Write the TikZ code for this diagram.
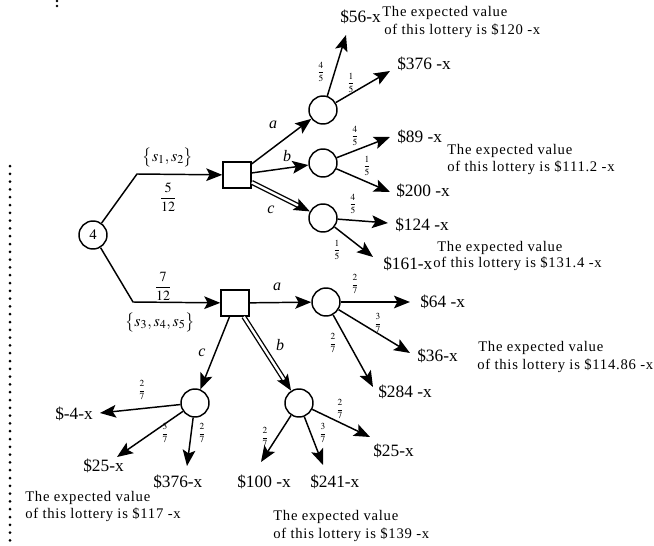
\documentclass[tikz,border=0pt]{standalone}
\usepackage{mathptmx}
\usepackage{fontspec}
\setmainfont{Liberation Serif}
\newfontfamily\evfont[LetterSpace=5]{Liberation Serif}
\usetikzlibrary{arrows.meta}
\tikzset{
  ln/.style={line width=1.1pt},
  arr/.style={ln,-{Stealth[length=12pt,width=9.5pt,inset=2.5pt]}},
  dbl/.style={arr,double,double distance=1.8pt,line width=1pt},
  chance/.style={circle,draw,line width=1.1pt,minimum size=21pt,inner sep=0pt},
  choice/.style={rectangle,draw,line width=1.1pt,minimum width=21pt,minimum height=19.5pt,inner sep=0pt},
  pay/.style={anchor=west,inner sep=0pt,font=\fontsize{13}{14}\selectfont},
  ev/.style={anchor=west,inner sep=0pt,font=\evfont\fontsize{11}{12}\selectfont},
  pr/.style={inner sep=0pt,font=\fontsize{7}{8}\selectfont},
  act/.style={inner sep=0pt,font=\fontsize{12}{13}\selectfont\itshape},
  big/.style={inner sep=0pt,font=\fontsize{12}{13}\selectfont},
  frc/.style={inner sep=0pt,font=\fontsize{10.5}{12}\selectfont},
  dotline/.style={line width=2.25pt,dash pattern=on 0pt off 5.85pt,line cap=round}
}
\begin{document}
\begin{tikzpicture}[x=0.75pt,y=-0.75pt]
\useasboundingbox (0,0) rectangle (654,546);
% dotted margins
\draw[dotline] (10,166) -- (10,543);
\fill (57,1) circle (1.1pt);
\fill (57,6) circle (1.1pt);

% nodes
\node[chance] (n4) at (93,235) {\fontsize{11}{12}\selectfont 4};
\node[choice] (sq1) at (237,175) {};
\node[choice] (sq2) at (235,303) {};
\node[chance] (ca1) at (323,110) {};
\node[chance] (cb1) at (323,163) {};
\node[chance] (cc1) at (323,218) {};
\node[chance] (ca2) at (326,302) {};
\node[chance] (cb2) at (299,403) {};
\node[chance] (cc2) at (195,403) {};

\coordinate (k1) at (137,174);
\coordinate (k2) at (133,302);

% first stage
\draw[arr] (n4) -- (k1) -- (sq1);
\draw[arr] (n4) -- (k2) -- (sq2);
\node[big] (l1) at (168,157) {$\bigl\{s_1,s_2\bigr\}$};
\node[frc] (f1) at (168,197) {$\displaystyle\frac{5}{12}$};
\node[frc] (f2) at (163,286) {$\displaystyle\frac{7}{12}$};
\node[big] (l2) at (160,322) {$\bigl\{s_3,s_4,s_5\bigr\}$};

% actions upper
\draw[arr] (sq1) -- (ca1);
\draw[arr] (sq1) -- (cb1);
\draw[dbl] (sq1) -- (cc1);
\node[act] (aa1) at (273,125) {a};
\node[act] (ab1) at (287,156) {b};
\node[act] (ac1) at (271,210) {c};

% actions lower
\draw[arr] (sq2) -- (ca2);
\draw[dbl] (sq2) -- (cb2);
\draw[arr] (sq2) -- (cc2);
\node[act] (aa2) at (277,287) {a};
\node[act] (ab2) at (280,345) {b};
\node[act] (ac2) at (202,353) {c};

% terminal coordinates
\coordinate (t56) at (346,35);
\coordinate (t376a) at (390,71);
\coordinate (t89) at (390,137);
\coordinate (t200) at (390,192);
\coordinate (t124) at (388,223);
\coordinate (t161) at (373,257);
\coordinate (t64) at (410,302);
\coordinate (t36) at (410,353);
\coordinate (t284) at (373,387);
\coordinate (t25b) at (370,437);
\coordinate (t241) at (323,465);
\coordinate (t100) at (261,462);
\coordinate (tm4) at (100,413);
\coordinate (t25c) at (117,457);
\coordinate (t376c) at (187,466);

% lotteries upper
\draw[arr] (ca1) -- (t56);
\draw[arr] (ca1) -- (t376a);
\draw[arr] (cb1) -- (t89);
\draw[arr] (cb1) -- (t200);
\draw[arr] (cc1) -- (t124);
\draw[arr] (cc1) -- (t161);
\node[pr] (p1) at (321,72) {$\displaystyle\frac{4}{5}$};
\node[pr] (p2) at (351,83) {$\displaystyle\frac{1}{5}$};
\node[pr] (p3) at (355,136) {$\displaystyle\frac{4}{5}$};
\node[pr] (p4) at (367,166) {$\displaystyle\frac{1}{5}$};
\node[pr] (p5) at (353,204) {$\displaystyle\frac{4}{5}$};
\node[pr] (p6) at (337,250) {$\displaystyle\frac{1}{5}$};

% lotteries lower
\draw[arr] (ca2) -- (t64);
\draw[arr] (ca2) -- (t36);
\draw[arr] (ca2) -- (t284);
\draw[arr] (cb2) -- (t25b);
\draw[arr] (cb2) -- (t241);
\draw[arr] (cb2) -- (t100);
\draw[arr] (cc2) -- (tm4);
\draw[arr] (cc2) -- (t25c);
\draw[arr] (cc2) -- (t376c);
\node[pr] (q1) at (355,284) {$\displaystyle\frac{2}{7}$};
\node[pr] (q2) at (378,323) {$\displaystyle\frac{3}{7}$};
\node[pr] (q3) at (333,343) {$\displaystyle\frac{2}{7}$};
\node[pr] (q4) at (340,409) {$\displaystyle\frac{2}{7}$};
\node[pr] (q5) at (323,433) {$\displaystyle\frac{3}{7}$};
\node[pr] (q6) at (265,437) {$\displaystyle\frac{2}{7}$};
\node[pr] (q7) at (142,390) {$\displaystyle\frac{2}{7}$};
\node[pr] (q8) at (165,433) {$\displaystyle\frac{3}{7}$};
\node[pr] (q9) at (202,433) {$\displaystyle\frac{2}{7}$};

% payoffs
\node[pay] (v56) at (340,17) {\$56-x};
\node[pay] (v376a) at (397,64) {\$376 -x};
\node[pay] (v89) at (397,137) {\$89 -x};
\node[pay] (v200) at (396,191) {\$200 -x};
\node[pay] (v124) at (395,225) {\$124 -x};
\node[pay] (v161) at (383,264) {\$161-x};
\node[pay] (v64) at (420,302) {\$64 -x};
\node[pay] (v36) at (417,356) {\$36-x};
\node[pay] (v284) at (378,392) {\$284 -x};
\node[pay] (v25b) at (373,451) {\$25-x};
\node[pay] (v241) at (310,482) {\$241-x};
\node[pay] (v100) at (237,482) {\$100 -x};
\node[pay] (v376c) at (153,482) {\$376-x};
\node[pay] (v25c) at (83,466) {\$25-x};
\node[pay] (vm4) at (55,414) {\$-4-x};

% expected values
\node[ev] (e1a) at (382,13) {The expected value};
\node[ev] (e1b) at (384,31) {of this lottery is \$120 -x};
\node[ev] (e2a) at (447,151) {The expected value};
\node[ev] (e2b) at (447,168) {of this lottery is \$111.2 -x};
\node[ev] (e3a) at (437,248) {The expected value};
\node[ev] (e3b) at (433,264) {of this lottery is \$131.4 -x};
\node[ev] (e4a) at (478,348) {The expected value};
\node[ev] (e4b) at (477,366) {of this lottery is \$114.86 -x};
\node[ev] (e5a) at (25,498) {The expected value};
\node[ev] (e5b) at (25,515) {of this lottery is \$117 -x};
\node[ev] (e6a) at (273,517) {The expected value};
\node[ev] (e6b) at (273,535) {of this lottery is \$139 -x};
\end{tikzpicture}
\end{document}
